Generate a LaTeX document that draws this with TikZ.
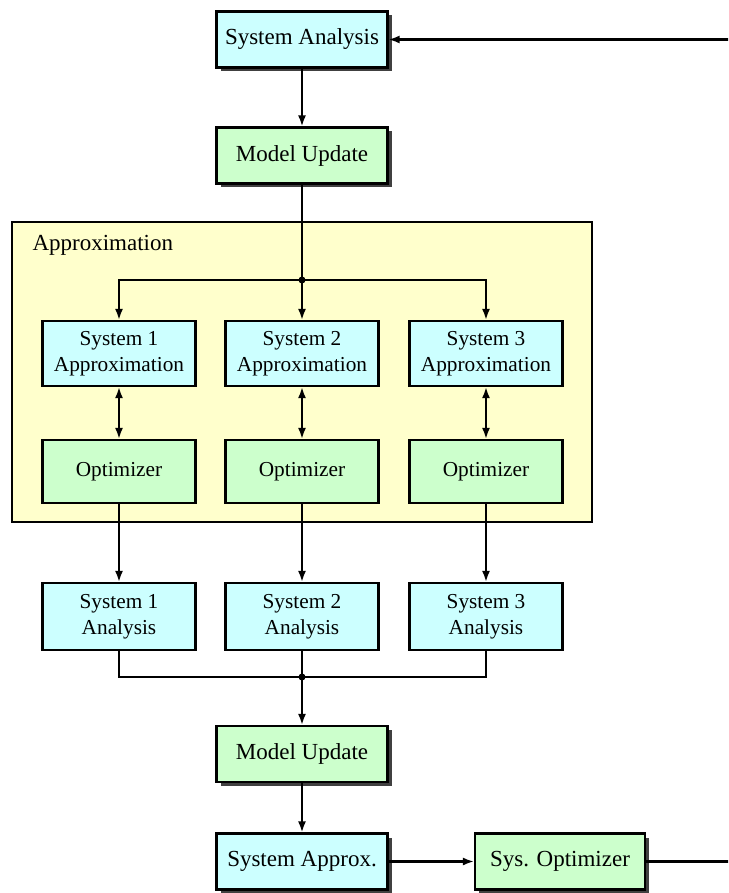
\documentclass[tikz,border=0pt]{standalone}
\usepackage{fontspec}
\setmainfont{Liberation Serif}
\usetikzlibrary{arrows.meta,shadows}
\definecolor{boxcyan}{HTML}{CCFFFF}
\definecolor{boxgreen}{HTML}{CCFFCC}
\definecolor{panelyellow}{HTML}{FFFFCC}
\definecolor{shadowgray}{HTML}{404040}
\tikzset{
  box/.style={draw=black, line width=2.1pt, align=center, inner sep=0pt,
    drop shadow={shadow xshift=4pt, shadow yshift=-4pt, fill=shadowgray, opacity=1}},
  bigbox/.style={box, minimum width=171pt, minimum height=56pt,
    font=\fontsize{23}{26}\selectfont},
  smallbox/.style={draw=black, line width=2.1pt, align=center, inner sep=0pt,
    minimum width=153pt, font=\fontsize{21.3}{26}\selectfont},
  cyanbox/.style={fill=boxcyan},
  greenbox/.style={fill=boxgreen},
  wire/.style={line width=2.1pt},
  arrow/.style={wire, -{Latex[length=11pt,width=8pt]}},
  dblarrow/.style={wire, {Latex[length=11pt,width=8pt]}-{Latex[length=11pt,width=8pt]}},
  junction/.style={circle, fill=black, inner sep=0pt, minimum size=7pt},
}
\begin{document}
\begin{tikzpicture}[x=1pt, y=-1pt]
  \useasboundingbox (0,0) rectangle (728,893);
  \clip (0,0) rectangle (728,893);

  % approximation panel
  \draw[line width=2.1pt, fill=panelyellow] (12,222) rectangle (592,522);
  \node[anchor=west, font=\fontsize{23}{26}\selectfont] (plabel) at (29,245) {Approximation};

  % main column
  \node[bigbox, cyanbox] (sa) at (302,39.5) {System Analysis};
  \node[bigbox, greenbox] (mu1) at (302,155.5) {Model Update};

  % per-system approximation and optimizer blocks
  \foreach \i/\x in {1/119, 2/302, 3/486} {
    \node[smallbox, cyanbox, minimum height=65pt] (a\i) at (\x,353.5) {System \i\\Approximation};
    \node[smallbox, greenbox, minimum height=63pt] (o\i) at (\x,471.5) {Optimizer};
    \node[smallbox, cyanbox, minimum height=67pt] (s\i) at (\x,616.5) {System \i\\Analysis};
  }

  \node[bigbox, greenbox] (mu2) at (302,754) {Model Update};
  \node[bigbox, cyanbox] (sapx) at (302,861.5) {System Approx.};
  \node[bigbox, greenbox, minimum width=170pt] (sopt) at (560,861.5) {Sys. Optimizer};

  % junctions
  \node[junction] (j1) at (302,280) {};
  \node[junction] (j2) at (302,677) {};
  \coordinate (loopbot) at (760,861.5);
  \coordinate (looptop) at (760,39.5);

  % connectors
  \draw[arrow] (sa) -- (mu1);
  \draw[wire] (mu1.south) -- (j1.center);
  \draw[arrow] (j1.center) -| (a1.north);
  \draw[arrow] (j1.center) -- (a2.north);
  \draw[arrow] (j1.center) -| (a3.north);
  \foreach \i in {1,2,3} {
    \draw[dblarrow] (a\i) -- (o\i);
    \draw[arrow] (o\i) -- (s\i);
  }
  \draw[wire] (s1.south) |- (j2.center) -| (s3.south);
  \draw[wire] (s2.south) -- (j2.center);
  \draw[arrow] (j2.center) -- (mu2.north);
  \draw[arrow] (mu2) -- (sapx);
  \draw[arrow] (sapx) -- (sopt);
  \draw[arrow] (sopt.east) -- (loopbot) -- (looptop) -- (sa.east);
\end{tikzpicture}
\end{document}
